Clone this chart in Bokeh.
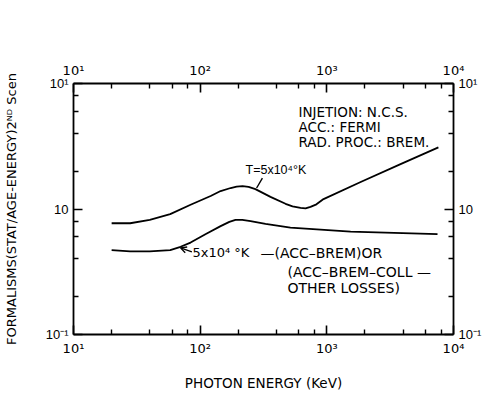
from bokeh.plotting import figure
from bokeh.models import LogAxis, Label, Arrow, OpenHead, FixedTicker
from bokeh.embed import file_html
from bokeh.resources import INLINE

# ---- data ----
energy_hot = [20, 28, 40, 58, 84, 121, 145, 174, 194, 216, 241, 273, 359, 472, 536, 620, 679, 743, 828, 942, 1850, 3820, 7600]
formal_hot = [0.77, 0.77, 0.82, 0.91, 1.08, 1.27, 1.39, 1.47, 1.51, 1.52, 1.50, 1.44, 1.25, 1.10, 1.05, 1.02, 1.01, 1.04, 1.09, 1.20, 1.64, 2.28, 3.10]

energy_cold = [20, 28, 40, 58, 70, 84, 110, 145, 170, 190, 215, 250, 328, 516, 1540, 7480]
formal_cold = [0.47, 0.46, 0.46, 0.47, 0.50, 0.54, 0.63, 0.73, 0.79, 0.82, 0.82, 0.80, 0.76, 0.71, 0.66, 0.63]

x_tick_vals = [10, 100, 1000, 10000]
x_tick_labels = ["10¹", "10²", "10³", "10⁴"]
y_tick_vals = [0.1, 1, 10]
y_tick_labels = ["10⁻¹", "10", "10¹"]

FONT = "DejaVu Sans"
NARROW = "Liberation Sans"

def minor_of(majors):
    out = []
    for m in majors[:-1]:
        out += [m * k for k in (2, 4, 6, 8)]
    return out

p = figure(width=486, height=393, x_axis_type="log", y_axis_type="log",
           x_range=(10, 10000), y_range=(0.1, 10),
           output_backend="svg", toolbar_location=None,
           min_border_left=73, min_border_right=33, min_border_top=83, min_border_bottom=58)
p.grid.visible = False
p.outline_line_color = None
p.background_fill_color = "white"
p.border_fill_color = "white"

bottom = p.below[0]
left = p.left[0]

xt = FixedTicker(ticks=x_tick_vals, minor_ticks=minor_of(x_tick_vals))
yt = FixedTicker(ticks=y_tick_vals, minor_ticks=minor_of(y_tick_vals))

top = LogAxis()
right = LogAxis()
p.add_layout(top, "above")
p.add_layout(right, "right")

xaxes = [bottom, top]
yaxes = [left, right]
for ax in xaxes:
    ax.ticker = xt
    ax.major_label_overrides = {v: t for v, t in zip(x_tick_vals, x_tick_labels)}
    ax.major_label_text_font = FONT
    ax.major_label_standoff = 6
for ax in yaxes:
    ax.ticker = yt
    ax.major_label_overrides = {v: t for v, t in zip(y_tick_vals, y_tick_labels)}
    ax.major_label_text_font = NARROW
    ax.major_label_standoff = 5
for ax in xaxes + yaxes:
    ax.axis_line_color = "black"
    ax.axis_line_width = 1.8
    ax.major_tick_line_color = "black"
    ax.major_tick_line_width = 1.6
    ax.minor_tick_line_color = "black"
    ax.minor_tick_line_width = 1.4
    ax.major_tick_in = 9
    ax.major_tick_out = 0
    ax.minor_tick_in = 5
    ax.minor_tick_out = 0
    ax.major_label_text_font_size = "13px"
    ax.major_label_text_color = "black"

bottom.axis_label = "PHOTON ENERGY (KeV)"
left.axis_label = "FORMALISMS(STAT/AGE-ENERGY)2ᴺᴰ Scen"
for ax in (bottom, left):
    ax.axis_label_text_font = FONT
    ax.axis_label_text_font_style = "normal"
    ax.axis_label_text_color = "black"
bottom.axis_label_text_font_size = "13.5px"
left.axis_label_text_font_size = "13px"
bottom.axis_label_standoff = 16
left.axis_label_standoff = 24

# ---- curves ----
p.line(energy_hot, formal_hot, line_color="black", line_width=1.8, line_join="round")
p.line(energy_cold, formal_cold, line_color="black", line_width=1.8, line_join="round")

# ---- annotations ----
def lab(x, y, text, size="14px", font=FONT):
    p.add_layout(Label(x=x, y=y, text=text, text_font=font, text_font_size=size,
                       text_color="black", text_align="left", text_baseline="middle"))

lab(597, 5.89, "INJETION: N.C.S.", "13.5px")
lab(597, 4.48, "ACC.: FERMI", "13.5px")
lab(597, 3.40, "RAD. PROC.: BREM.", "13.5px")
lab(228, 2.04, "T=5x10⁴°K", "12.5px", NARROW)
p.line([310, 279], [1.76, 1.47], line_color="black", line_width=1.4)
lab(87, 0.448, "5x10⁴ °K", "13px")
p.add_layout(Arrow(x_start=86, y_start=0.456, x_end=70, y_end=0.49,
                   line_color="black", line_width=1.4,
                   end=OpenHead(size=6, line_color="black", line_width=1.4)))
lab(299, 0.448, "—(ACC–BREM)OR")
lab(489, 0.316, "(ACC–BREM–COLL —")
lab(489, 0.236, "OTHER LOSSES)")

open("out.html", "w").write(file_html(p, INLINE))
